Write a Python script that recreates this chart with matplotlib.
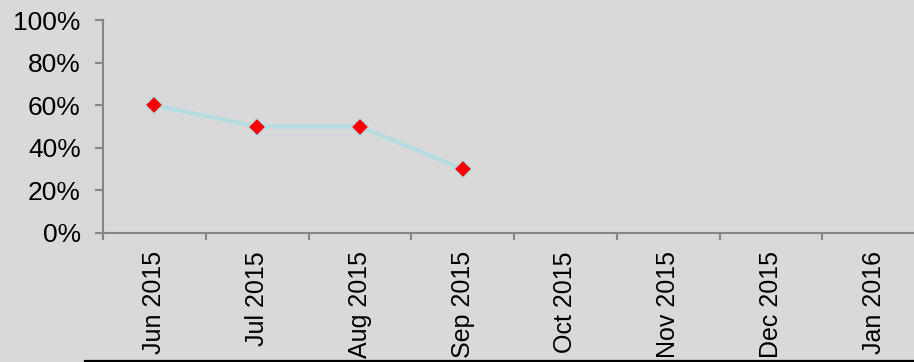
import matplotlib
matplotlib.use('Agg')
import matplotlib.pyplot as plt
from matplotlib.lines import Line2D
from matplotlib.ticker import FixedLocator, PercentFormatter

plt.rcParams['font.family'] = ['Liberation Sans', 'DejaVu Sans']

months = ['Jun 2015', 'Jul 2015', 'Aug 2015', 'Sep 2015',
          'Oct 2015', 'Nov 2015', 'Dec 2015', 'Jan 2016']
rate = [60, 50, 50, 30]   # percent, only first four months have values
y_ticks = [0, 20, 40, 60, 80, 100]

bg = '#d9d9d9'
W, H = 914, 362
fig = plt.figure(figsize=(W / 100, H / 100), dpi=100, facecolor=bg)
# the plot area runs past the right edge of the picture, like the original
ax = fig.add_axes([103 / W, (H - 233) / H, (925 - 103) / W, 213 / H])
ax.set_facecolor(bg)

x = [i + 0.5 for i in range(len(rate))]
ax.plot(x, rate, color='#b5dde1', lw=3, marker='D', markersize=9,
        markerfacecolor='#ff0000', markeredgecolor='#b5dde1', markeredgewidth=1.2,
        solid_capstyle='round', clip_on=False)

ax.set_xlim(0, len(months))
ax.set_ylim(0, 100)
ax.set_yticks(y_ticks)
ax.yaxis.set_major_formatter(PercentFormatter(decimals=0))

ax.xaxis.set_major_locator(FixedLocator(range(len(months) + 1)))
ax.xaxis.set_minor_locator(FixedLocator([i + 0.5 for i in range(len(months))]))
ax.set_xticklabels([])
ax.set_xticklabels(months, minor=True, rotation=90, va='top', ha='center')

for s in ['top', 'right']:
    ax.spines[s].set_visible(False)
for s in ['left', 'bottom']:
    ax.spines[s].set_color('#868686')
    ax.spines[s].set_linewidth(1.5)

ax.tick_params(axis='y', which='major', length=6, width=1.5, color='#868686',
               labelsize=19, pad=10)
ax.tick_params(axis='x', which='major', length=5, width=1.5, color='#868686')
ax.tick_params(axis='x', which='minor', length=0, labelsize=18, pad=13)

fig.add_artist(Line2D([85 / W, 1], [1 / H, 1 / H], color='black', lw=1.6,
                      transform=fig.transFigure, zorder=10))

fig.savefig('out.png', dpi=100, facecolor=bg)
